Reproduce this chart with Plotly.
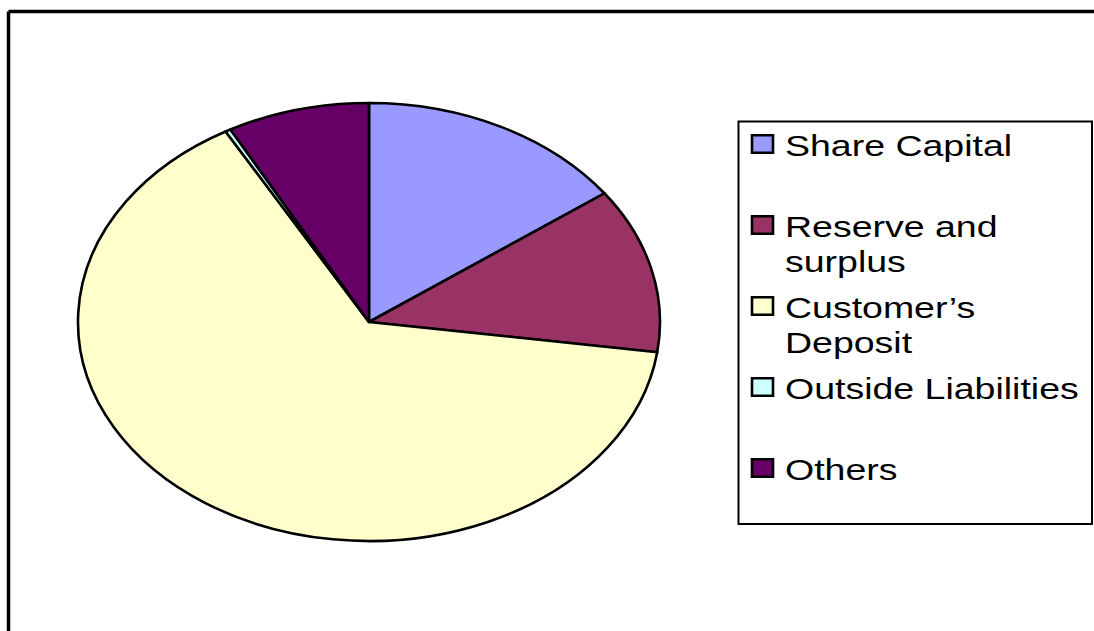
import plotly.graph_objects as go

# Composition of liabilities (percent of total)
labels = ["Share Capital", "Reserve and surplus", "Customer’s Deposit",
          "Outside Liabilities", "Others"]
legend_text = ["Share Capital<br> ", "Reserve and<br>surplus", "Customer’s<br>Deposit",
               "Outside Liabilities<br> ", "Others<br> "]
values = [15.0, 12.2, 64.6, 0.3, 7.9]
colors = ["#9999FF", "#993366", "#FFFFCC", "#CCFFFF", "#660066"]

W, H = 1094, 631

# Pie geometry in pixels: centre and radii of the elliptical pie
cx, cy = 369.0, 322.0
rx, ry = 291.0, 219.0
sx = rx / ry

fig = go.Figure()
fig.add_trace(go.Pie(
    labels=legend_text,
    values=values,
    marker=dict(colors=colors, line=dict(color="black", width=2.6)),
    sort=False,
    direction="clockwise",
    rotation=0,
    textinfo="none",
    hoverinfo="label+percent",
    domain=dict(x=[(cx - ry) / W, (cx + ry) / W],
                y=[(H - cy - ry) / H, (H - cy + ry) / H]),
))

def px_x(v):
    return v / W

def px_y(v):
    return 1 - v / H

shapes = [
    # chart-area frame (top and left edges)
    dict(type="line", xref="paper", yref="paper", x0=px_x(8.5), x1=1.0,
         y0=px_y(11.5), y1=px_y(11.5), line=dict(color="black", width=3.5)),
    dict(type="line", xref="paper", yref="paper", x0=px_x(8.5), x1=px_x(8.5),
         y0=px_y(11.5), y1=0.0, line=dict(color="black", width=3.5)),
    # legend box
    dict(type="rect", xref="paper", yref="paper", x0=px_x(738.5), x1=px_x(1092),
         y0=px_y(524), y1=px_y(121.5), line=dict(color="black", width=2)),
]

fig.update_layout(
    width=W, height=H,
    margin=dict(l=0, r=0, t=0, b=0),
    paper_bgcolor="white",
    plot_bgcolor="white",
    shapes=shapes,
    showlegend=True,
    legend=dict(
        x=px_x(745), y=px_y(118), xanchor="left", yanchor="top",
        font=dict(family="Liberation Sans, Arial, sans-serif", size=30, color="black"),
        bgcolor="rgba(0,0,0,0)", borderwidth=0, valign="top",
    ),
)

# Stretch the circular pie into an ellipse, widen the legend swatches and
# give the legend text its wide, tightly spaced look
post = f"""
var gd = document.getElementById('{{plot_id}}');
function reshapePie() {{
  var layer = gd.querySelector('.pielayer');
  if (layer) {{
    layer.setAttribute('transform',
      'translate({cx},0) scale({sx},1) translate({-cx},0)');
    layer.querySelectorAll('path').forEach(function(p) {{
      p.style.vectorEffect = 'non-scaling-stroke';
    }});
  }}
  gd.querySelectorAll('.legend .scrollbox').forEach(function(s) {{
    s.removeAttribute('clip-path');
  }});
  gd.querySelectorAll('.legend path.legendpie').forEach(function(p) {{
    p.setAttribute('transform', 'translate(17.5,0) scale(1.75,1.47)');
    p.style.vectorEffect = 'non-scaling-stroke';
  }});
  gd.querySelectorAll('.legend text.legendtext').forEach(function(t) {{
    var x0 = parseFloat(t.getAttribute('x')) || 40;
    t.setAttribute('transform',
      'translate(' + x0 + ',0) scale(1.25,1) translate(' + (-x0) + ',0)');
    var lines = t.querySelectorAll('tspan.line');
    for (var i = 1; i < lines.length; i++) {{
      lines[i].setAttribute('dy', '1.17em');
    }}
  }});
}}
reshapePie();
gd.on('plotly_afterplot', reshapePie);
"""

fig.write_html("out.html", post_script=post)
